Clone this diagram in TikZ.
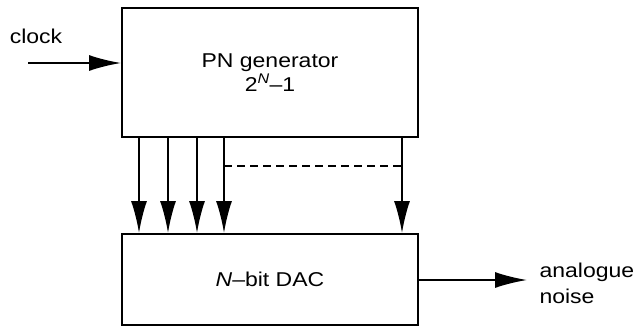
\documentclass[tikz,border=0pt]{standalone}
\usepackage{fontspec}
\setmainfont{Liberation Sans}[FakeStretch=1.15]
\usepackage{tikz}
\usetikzlibrary{arrows.meta}

\begin{document}
\begin{tikzpicture}[x=1pt,y=-1pt,
  font=\fontsize{20}{24}\selectfont,
  blk/.style={draw,line width=2pt,minimum width=296pt,inner sep=0pt,align=center},
  sig/.style={line width=1.8pt,-{Latex[length=32pt,width=16pt]}}]

\useasboundingbox (0,0) rectangle (635,330);

\node[blk,minimum height=129pt] (gen) at (270,72.5) {PN generator\\2\textsuperscript{\itshape N}--1};
\node[blk,minimum height=91pt] (dac) at (270,279.5) {{\itshape N}--bit DAC};
\node (clk) at (36,36) {clock};
\node[align=left,anchor=west,font=\fontsize{20}{26}\selectfont] (out) at (536,283) {analogue\\noise};

\coordinate (cin) at (28,63);
\coordinate (nout) at (527,280);
\coordinate (d1) at (224,166);
\coordinate (d2) at (402,166);

\draw[sig] (cin) -- (cin -| gen.west);
\draw[sig] (dac.east |- nout) -- (nout);

\foreach \x in {139,168,197,224,402}
  \draw[sig] (\x,0 |- gen.south) -- (\x,0 |- dac.north);

\draw[line width=1.8pt,dash pattern=on 8pt off 5pt] (d1) -- (d2);

\end{tikzpicture}
\end{document}
